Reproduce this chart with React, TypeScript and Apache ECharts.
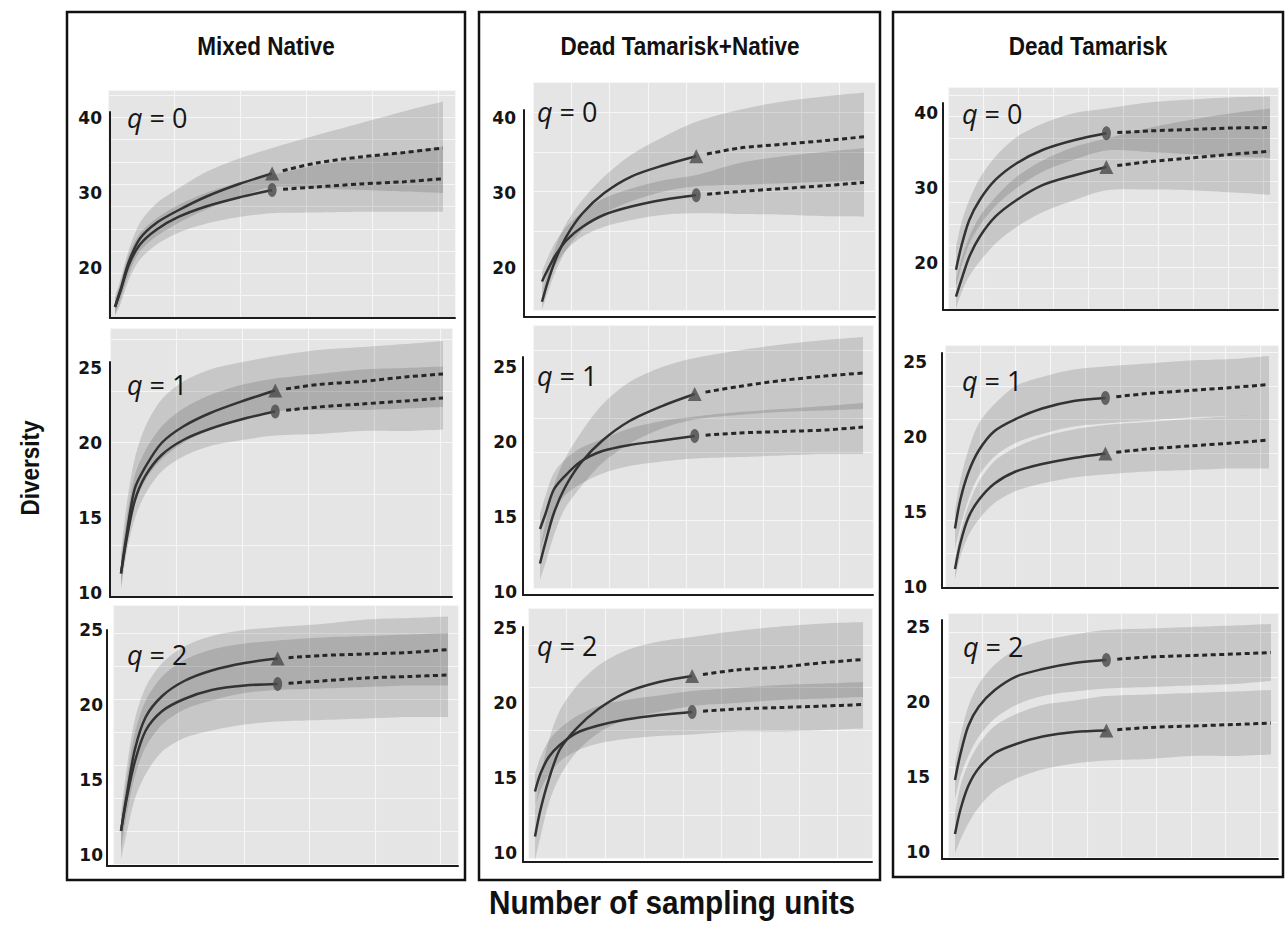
import React, { useEffect, useRef } from "react";
import * as echarts from "echarts";

// Number of sampling units
const interpX = [1, 3, 6, 10, 16, 24, 34, 46, 58];
const extrapX = [58, 74, 90, 106, 120];
const bandX = [1, 3, 6, 10, 16, 24, 34, 46, 58, 74, 90, 106, 120];

const boxTitles = ["Mixed Native", "Dead Tamarisk+Native", "Dead Tamarisk"];
const qOrders = [0, 1, 2];
const ticksQ0 = [20, 30, 40];
const ticksQ12 = [10, 15, 20, 25];

// ---- Mixed Native, q = 0
const mnQ0TriObs = [14.8, 17.1, 20.8, 23.9, 26.0, 27.7, 29.5, 31.2, 32.6];
const mnQ0TriExt = [32.6, 34.0, 34.8, 35.4, 36.0];
const mnQ0TriLo = [13.8, 15.8, 19.2, 22.2, 24.2, 26.0, 27.8, 29.4, 30.8, 30.6, 30.4, 30.2, 30.0];
const mnQ0TriHi = [16.2, 18.5, 22.4, 26.0, 28.6, 30.6, 32.8, 34.6, 36.0, 37.7, 39.3, 40.9, 42.2];
const mnQ0CirObs = [14.8, 16.9, 20.4, 23.1, 25.1, 26.8, 28.2, 29.4, 30.4];
const mnQ0CirExt = [30.4, 30.8, 31.2, 31.5, 31.9];
const mnQ0CirLo = [13.6, 15.2, 18.4, 21.1, 23.1, 24.7, 25.9, 26.8, 27.3, 27.4, 27.5, 27.5, 27.5];
const mnQ0CirHi = [15.8, 18.0, 21.8, 24.6, 26.6, 28.4, 30.0, 31.4, 32.4, 33.7, 34.6, 35.5, 36.2];

// ---- Dead Tamarisk+Native, q = 0
const dtnQ0TriObs = [15.5, 18.0, 21.1, 24.2, 27.3, 30.0, 32.2, 33.7, 34.9];
const dtnQ0TriExt = [34.9, 36.0, 36.5, 37.0, 37.5];
const dtnQ0TriLo = [14.4, 16.6, 19.5, 22.4, 25.1, 27.3, 28.9, 30.2, 30.9, 31.1, 31.3, 31.5, 31.7];
const dtnQ0TriHi = [16.6, 19.3, 22.8, 26.0, 29.1, 32.2, 35.1, 37.5, 39.5, 41.1, 42.2, 42.9, 43.4];
const dtnQ0CirObs = [18.2, 19.7, 21.7, 23.7, 25.5, 27.1, 28.2, 29.1, 29.7];
const dtnQ0CirExt = [29.7, 30.2, 30.6, 31.0, 31.4];
const dtnQ0CirLo = [16.6, 18.4, 20.4, 22.4, 24.2, 25.5, 26.4, 27.1, 27.3, 27.2, 27.1, 26.9, 26.85];
const dtnQ0CirHi = [19.5, 21.3, 23.5, 25.5, 27.5, 29.3, 30.6, 31.7, 32.4, 34.0, 34.9, 35.5, 36.0];

// ---- Dead Tamarisk, q = 0
const dtQ0TriObs = [15.5, 17.7, 20.8, 23.5, 26.2, 28.4, 30.4, 31.7, 32.8];
const dtQ0TriExt = [32.8, 33.5, 34.0, 34.5, 34.9];
const dtQ0TriLo = [13.9, 16.0, 18.2, 20.2, 22.6, 24.8, 26.8, 28.4, 29.7, 29.8, 29.7, 29.4, 29.1];
const dtQ0TriHi = [17.7, 20.4, 23.5, 26.2, 28.8, 31.5, 33.7, 35.5, 36.6, 38.0, 39.1, 40.0, 40.6];
const dtQ0CirObs = [19.1, 22.2, 25.7, 28.4, 31.1, 33.3, 35.1, 36.4, 37.3];
const dtQ0CirExt = [37.3, 37.6, 37.8, 38.0, 38.05];
const dtQ0CirLo = [17.0, 19.5, 22.5, 25.0, 27.6, 30.0, 32.2, 33.8, 35.0, 34.8, 34.5, 34.2, 34.0];
const dtQ0CirHi = [22.2, 25.3, 28.4, 31.3, 34.2, 36.8, 38.6, 40.0, 40.6, 41.4, 41.8, 42.1, 42.2];

// ---- Mixed Native, q = 1
const mnQ1TriObs = [11.3, 13.8, 16.9, 18.4, 20.0, 21.1, 22.0, 22.8, 23.5];
const mnQ1TriExt = [23.5, 23.9, 24.1, 24.4, 24.6];
const mnQ1TriLo = [10.4, 13.1, 15.8, 17.5, 18.9, 20.0, 20.9, 21.5, 22.1, 22.2, 22.2, 22.3, 22.4];
const mnQ1TriHi = [12.6, 15.8, 18.9, 21.1, 22.9, 24.1, 24.9, 25.4, 25.8, 26.2, 26.4, 26.6, 26.8];
const mnQ1CirObs = [11.3, 13.5, 16.1, 17.8, 19.2, 20.2, 20.95, 21.6, 22.1];
const mnQ1CirExt = [22.1, 22.4, 22.6, 22.8, 23.0];
const mnQ1CirLo = [10.2, 12.6, 14.9, 16.6, 18.1, 19.1, 19.8, 20.2, 20.5, 20.6, 20.8, 20.8, 20.9];
const mnQ1CirHi = [12.2, 14.9, 17.8, 19.5, 21.1, 22.3, 23.2, 23.9, 24.3, 24.6, 24.9, 25.0, 25.1];

// ---- Dead Tamarisk+Native, q = 1
const dtnQ1TriObs = [11.9, 13.3, 15.2, 16.9, 18.6, 20.1, 21.4, 22.4, 23.2];
const dtnQ1TriExt = [23.2, 23.7, 24.1, 24.4, 24.6];
const dtnQ1TriLo = [10.8, 11.9, 13.7, 15.5, 17.0, 18.6, 19.9, 20.9, 21.5, 21.8, 22.0, 22.1, 22.2];
const dtnQ1TriHi = [12.8, 14.6, 17.0, 18.8, 20.6, 22.5, 24.0, 25.0, 25.6, 26.1, 26.5, 26.8, 27.0];
const dtnQ1CirObs = [14.2, 15.2, 16.8, 17.7, 18.7, 19.4, 19.8, 20.1, 20.4];
const dtnQ1CirExt = [20.4, 20.6, 20.7, 20.8, 21.0];
const dtnQ1CirLo = [12.8, 13.9, 15.2, 16.4, 17.2, 17.9, 18.4, 18.7, 18.9, 19.0, 19.1, 19.2, 19.2];
const dtnQ1CirHi = [15.2, 16.4, 17.9, 18.8, 19.6, 20.2, 20.9, 21.4, 21.7, 22.0, 22.2, 22.4, 22.6];

// ---- Dead Tamarisk, q = 1
const dtQ1TriObs = [11.2, 12.9, 14.6, 15.8, 16.9, 17.7, 18.2, 18.6, 18.9];
const dtQ1TriExt = [18.9, 19.2, 19.4, 19.6, 19.8];
const dtQ1TriLo = [10.5, 12.0, 13.4, 14.5, 15.6, 16.4, 16.9, 17.3, 17.5, 17.7, 17.8, 17.9, 17.9];
const dtQ1TriHi = [11.8, 13.6, 15.4, 17.0, 18.4, 19.3, 20.0, 20.5, 20.8, 21.0, 21.2, 21.4, 21.5];
const dtQ1CirObs = [13.9, 15.8, 17.6, 19.1, 20.4, 21.2, 21.9, 22.4, 22.6];
const dtQ1CirExt = [22.6, 22.9, 23.1, 23.3, 23.5];
const dtQ1CirLo = [12.5, 14.0, 15.8, 17.4, 18.7, 19.6, 20.2, 20.7, 20.9, 21.1, 21.3, 21.4, 21.5];
const dtQ1CirHi = [15.1, 17.1, 19.1, 20.9, 22.2, 23.4, 24.0, 24.5, 24.7, 24.9, 25.1, 25.2, 25.4];

// ---- Mixed Native, q = 2
const mnQ2TriObs = [11.6, 13.9, 17.0, 19.2, 20.6, 21.6, 22.3, 22.8, 23.1];
const mnQ2TriExt = [23.1, 23.3, 23.4, 23.5, 23.7];
const mnQ2TriLo = [10.3, 12.6, 15.2, 17.2, 18.7, 19.7, 20.3, 20.8, 21.0, 21.1, 21.2, 21.3, 21.3];
const mnQ2TriHi = [12.8, 15.7, 19.0, 21.2, 22.8, 23.9, 24.6, 25.0, 25.2, 25.4, 25.7, 25.8, 25.9];
const mnQ2CirObs = [11.6, 13.7, 16.2, 18.3, 19.6, 20.4, 21.0, 21.3, 21.4];
const mnQ2CirExt = [21.4, 21.6, 21.8, 21.9, 22.0];
const mnQ2CirLo = [9.7, 11.4, 13.7, 15.4, 16.9, 17.8, 18.3, 18.7, 18.9, 19.0, 19.1, 19.2, 19.2];
const mnQ2CirHi = [12.3, 15.0, 18.1, 20.3, 21.9, 23.0, 23.7, 24.1, 24.3, 24.5, 24.6, 24.7, 24.8];

// ---- Dead Tamarisk+Native, q = 2
const dtnQ2TriObs = [11.1, 12.9, 14.9, 16.9, 18.3, 19.6, 20.7, 21.4, 21.8];
const dtnQ2TriExt = [21.8, 22.2, 22.4, 22.7, 22.9];
const dtnQ2TriLo = [9.5, 11.1, 13.3, 15.1, 16.7, 18.0, 18.9, 19.4, 19.8, 20.0, 20.2, 20.3, 20.4];
const dtnQ2TriHi = [12.9, 15.1, 17.5, 19.5, 21.1, 22.5, 23.5, 24.1, 24.4, 24.8, 25.1, 25.3, 25.4];
const dtnQ2CirObs = [14.1, 15.3, 16.4, 17.2, 18.0, 18.5, 18.9, 19.2, 19.4];
const dtnQ2CirExt = [19.4, 19.6, 19.7, 19.8, 19.9];
const dtnQ2CirLo = [13.1, 14.2, 15.2, 16.1, 16.8, 17.3, 17.6, 17.8, 17.9, 18.1, 18.1, 18.2, 18.3];
const dtnQ2CirHi = [15.3, 16.4, 17.5, 18.3, 19.1, 19.8, 20.2, 20.5, 20.8, 21.0, 21.2, 21.3, 21.4];

// ---- Dead Tamarisk, q = 2
const dtQ2TriObs = [11.2, 12.8, 14.4, 15.6, 16.6, 17.2, 17.7, 18.0, 18.1];
const dtQ2TriExt = [18.1, 18.3, 18.4, 18.5, 18.6];
const dtQ2TriLo = [9.9, 10.8, 11.9, 13.0, 14.1, 14.9, 15.5, 15.9, 16.1, 16.2, 16.4, 16.4, 16.5];
const dtQ2TriHi = [12.6, 14.4, 15.9, 17.2, 18.4, 19.2, 19.8, 20.1, 20.4, 20.5, 20.6, 20.7, 20.8];
const dtQ2CirObs = [14.8, 16.5, 18.4, 19.7, 20.8, 21.7, 22.2, 22.6, 22.8];
const dtQ2CirExt = [22.8, 23.0, 23.1, 23.2, 23.3];
const dtQ2CirLo = [13.5, 15.0, 16.4, 17.7, 18.9, 19.8, 20.4, 20.7, 20.9, 21.0, 21.1, 21.2, 21.4];
const dtQ2CirHi = [15.9, 17.7, 19.7, 21.2, 22.5, 23.5, 24.1, 24.5, 24.8, 24.9, 25.0, 25.1, 25.2];

type Curve = { obs: number[]; ext: number[]; lo: number[]; hi: number[]; symbol: string };
const tri = (obs: number[], ext: number[], lo: number[], hi: number[]): Curve => ({ obs, ext, lo, hi, symbol: "triangle" });
const cir = (obs: number[], ext: number[], lo: number[], hi: number[]): Curve => ({ obs, ext, lo, hi, symbol: "circle" });

// row-major: q = 0, 1, 2 ; columns: MN, DTN, DT
const panelCurves: Curve[][] = [
  [tri(mnQ0TriObs, mnQ0TriExt, mnQ0TriLo, mnQ0TriHi), cir(mnQ0CirObs, mnQ0CirExt, mnQ0CirLo, mnQ0CirHi)],
  [tri(dtnQ0TriObs, dtnQ0TriExt, dtnQ0TriLo, dtnQ0TriHi), cir(dtnQ0CirObs, dtnQ0CirExt, dtnQ0CirLo, dtnQ0CirHi)],
  [tri(dtQ0TriObs, dtQ0TriExt, dtQ0TriLo, dtQ0TriHi), cir(dtQ0CirObs, dtQ0CirExt, dtQ0CirLo, dtQ0CirHi)],
  [tri(mnQ1TriObs, mnQ1TriExt, mnQ1TriLo, mnQ1TriHi), cir(mnQ1CirObs, mnQ1CirExt, mnQ1CirLo, mnQ1CirHi)],
  [tri(dtnQ1TriObs, dtnQ1TriExt, dtnQ1TriLo, dtnQ1TriHi), cir(dtnQ1CirObs, dtnQ1CirExt, dtnQ1CirLo, dtnQ1CirHi)],
  [tri(dtQ1TriObs, dtQ1TriExt, dtQ1TriLo, dtQ1TriHi), cir(dtQ1CirObs, dtQ1CirExt, dtQ1CirLo, dtQ1CirHi)],
  [tri(mnQ2TriObs, mnQ2TriExt, mnQ2TriLo, mnQ2TriHi), cir(mnQ2CirObs, mnQ2CirExt, mnQ2CirLo, mnQ2CirHi)],
  [tri(dtnQ2TriObs, dtnQ2TriExt, dtnQ2TriLo, dtnQ2TriHi), cir(dtnQ2CirObs, dtnQ2CirExt, dtnQ2CirLo, dtnQ2CirHi)],
  [tri(dtQ2TriObs, dtQ2TriExt, dtQ2TriLo, dtQ2TriHi), cir(dtQ2CirObs, dtQ2CirExt, dtQ2CirLo, dtQ2CirHi)],
];

// Layout (pixels): frame = axis lines box, bg = grey panel, xp = pixel of first/last sample
const layouts = [
  { frame: [110, 112, 455, 318], bg: [108, 90, 455, 318], y: [13.33, 40.8], xp: [115, 443], lm: 8, gs: [66, 22.3], qAt: [127, 117] },
  { frame: [524, 110, 875, 317], bg: [533, 82, 875, 310], y: [13.47, 41.07], xp: [542, 864], lm: 8, gs: [38.3, 39.5], qAt: [537, 111] },
  { frame: [943, 103, 1278, 310], bg: [948, 87, 1278, 310], y: [13.73, 41.33], xp: [956, 1270], lm: 5, gs: [35, 21.5], qAt: [962, 113] },
  { frame: [110, 362, 452, 597], bg: [110, 328, 452, 597], y: [9.73, 25.4], xp: [121, 443], lm: 8, gs: [66, 51.5], qAt: [127, 384] },
  { frame: [523, 357, 873, 595], bg: [533, 325, 873, 588], y: [9.8, 25.67], xp: [540, 863], lm: 6, gs: [38.3, 34], qAt: [537, 375] },
  { frame: [942, 353, 1278, 588], bg: [945, 345, 1278, 587], y: [9.93, 25.6], xp: [955, 1269], lm: 15, gs: [35, 33.5], qAt: [962, 380] },
  { frame: [107, 630, 458, 866], bg: [113, 605, 458, 864], y: [9.27, 25], xp: [121, 448], lm: 4, gs: [65.5, 33], qAt: [127, 654] },
  { frame: [523, 627, 872, 862], bg: [528, 608, 872, 858], y: [9.4, 25.07], xp: [535, 863], lm: 6, gs: [38.7, 42.6], qAt: [537, 645] },
  { frame: [942, 620, 1278, 859], bg: [948, 613, 1278, 857], y: [9.53, 25.47], xp: [955, 1271], lm: 12, gs: [34.7, 45], qAt: [963, 646] },
];

const boxes = [
  { x: 67, y: 12, w: 398, h: 868, cx: 266 },
  { x: 479, y: 12, w: 401, h: 868, cx: 680 },
  { x: 893, y: 12, w: 390, h: 865, cx: 1088 },
];

// dotted extrapolation: short gap after the reference-sample marker, then square dashes
const dotPattern: number[] = [0.001, 11];
for (let i = 0; i < 60; i++) dotPattern.push(5, 3.5);

function buildOption() {
  const grids: any[] = [];
  const xAxes: any[] = [];
  const yAxes: any[] = [];
  const series: any[] = [];
  const graphics: any[] = [];
  const X0 = bandX[0];
  const X1 = bandX[bandX.length - 1];

  layouts.forEach((L, i) => {
    const row = Math.floor(i / 3);
    const curves = panelCurves[i];
    const [bl, bt, br, bb] = L.bg;
    const bw = br - bl;
    const bh = bb - bt;

    // background grid with gridlines
    const gIdx = grids.length;
    grids.push({ left: bl, top: bt, width: bw, height: bh, show: true, backgroundColor: "#E5E5E5", borderWidth: 0 });
    xAxes.push({
      gridIndex: gIdx, type: "value", min: 0, max: bw / L.gs[0], interval: 1,
      axisLine: { show: false }, axisTick: { show: false }, axisLabel: { show: false },
      splitLine: { show: true, lineStyle: { color: "#F6F6F6", width: 1.2 } }, z: 1,
    });
    yAxes.push({
      gridIndex: gIdx, type: "value", min: 0, max: bh / L.gs[1], interval: 1,
      axisLine: { show: false }, axisTick: { show: false }, axisLabel: { show: false },
      splitLine: { show: true, lineStyle: { color: "#F6F6F6", width: 1.2 } }, z: 1,
    });

    // data grid with axes
    const [fl, ft, fr, fb] = L.frame;
    const aIdx = grids.length;
    grids.push({ left: fl, top: ft, width: fr - fl, height: fb - ft, show: false });
    const k = (L.xp[1] - L.xp[0]) / (X1 - X0);
    const xIdx = xAxes.length;
    xAxes.push({
      gridIndex: aIdx, type: "value",
      min: X0 - (L.xp[0] - fl) / k, max: X1 + (fr - L.xp[1]) / k,
      axisLine: { show: true, onZero: false, lineStyle: { color: "#1c1c1c", width: 2 } },
      axisTick: { show: false }, axisLabel: { show: false }, splitLine: { show: false }, z: 6,
    });
    const yIdx = yAxes.length;
    yAxes.push({
      gridIndex: aIdx, type: "value", min: L.y[0], max: L.y[1],
      axisLine: { show: true, onZero: false, lineStyle: { color: "#1c1c1c", width: 2 } },
      axisTick: { show: false },
      axisLabel: {
        customValues: row === 0 ? ticksQ0 : ticksQ12, margin: L.lm,
        fontFamily: "DejaVu Sans", fontWeight: "bold", fontSize: 17, color: "#151515",
      },
      splitLine: { show: false }, z: 6,
    });

    // bands (smoothed polygon; end corners duplicated to keep them sharp)
    curves.forEach((c) => {
      series.push({
        type: "custom", xAxisIndex: xIdx, yAxisIndex: yIdx, clip: false, silent: true, z: 2,
        data: [[bandX[0], c.lo[0]]],
        renderItem: (_p: any, api: any) => {
          const n = bandX.length;
          const pts: number[][] = [];
          pts.push(api.coord([bandX[0], c.hi[0]]));
          bandX.forEach((x, j) => pts.push(api.coord([x, c.hi[j]])));
          pts.push(api.coord([bandX[n - 1], c.hi[n - 1]]));
          pts.push(api.coord([bandX[n - 1], c.lo[n - 1]]));
          for (let j = n - 1; j >= 0; j--) pts.push(api.coord([bandX[j], c.lo[j]]));
          pts.push(api.coord([bandX[0], c.lo[0]]));
          return {
            type: "polygon",
            shape: { points: pts, smooth: 0.3 },
            style: { fill: "rgba(0,0,0,0.13)" },
          };
        },
      });
    });
    // lines
    curves.forEach((c) => {
      series.push({
        type: "line", xAxisIndex: xIdx, yAxisIndex: yIdx, silent: true, z: 3,
        data: interpX.map((x, j) => [x, c.obs[j]]),
        smooth: 0.3, showSymbol: false, symbol: "none",
        lineStyle: { color: "#333", width: 2.5 },
      });
      series.push({
        type: "line", xAxisIndex: xIdx, yAxisIndex: yIdx, silent: true, z: 3,
        data: extrapX.map((x, j) => [x, c.ext[j]]),
        smooth: 0.3, showSymbol: false, symbol: "none",
        lineStyle: { color: "#262626", width: 3, type: dotPattern },
      });
      const last = interpX.length - 1;
      series.push({
        type: "scatter", xAxisIndex: xIdx, yAxisIndex: yIdx, silent: true, z: 4,
        data: [[interpX[last], c.obs[last]]],
        symbol: c.symbol, symbolSize: c.symbol === "triangle" ? [14, 14] : [9, 14],
        itemStyle: { color: "#4a4a4a" },
      });
    });

    // q label
    graphics.push({
      type: "text", x: L.qAt[0], y: L.qAt[1], z: 20, silent: true,
      style: {
        text: "{i|q} = " + qOrders[row],
        font: '27px "Open Sans"', fill: "#161616",
        align: "left", verticalAlign: "middle", textAlign: "left", textVerticalAlign: "middle",
        rich: { i: { fontStyle: "italic", fontSize: 27, fontFamily: "Open Sans", fill: "#161616" } },
      },
    });
  });

  const bigFont = (size: number) => `bold ${size}px "Liberation Sans", Arial`;

  boxes.forEach((b, i) => {
    graphics.push({
      type: "rect", z: 30, silent: true,
      shape: { x: b.x, y: b.y, width: b.w, height: b.h },
      style: { fill: "none", stroke: "#111", lineWidth: 2.5 },
    });
    graphics.push({
      type: "text", x: b.cx, y: 46, z: 30, silent: true, scaleX: 0.9, scaleY: 1,
      style: {
        text: boxTitles[i], font: bigFont(25), fill: "#111",
        align: "center", verticalAlign: "middle", textAlign: "center", textVerticalAlign: "middle",
      },
    });
  });

  graphics.push({
    type: "text", x: 30, y: 468, rotation: Math.PI / 2, z: 30, silent: true, scaleX: 0.9,
    style: {
      text: "Diversity", font: bigFont(25), fill: "#111",
      align: "center", verticalAlign: "middle", textAlign: "center", textVerticalAlign: "middle",
    },
  });
  graphics.push({
    type: "text", x: 672, y: 903, z: 30, silent: true, scaleX: 0.9,
    style: {
      text: "Number of sampling units", font: bigFont(33), fill: "#111",
      align: "center", verticalAlign: "middle", textAlign: "center", textVerticalAlign: "middle",
    },
  });

  return {
    animation: false,
    backgroundColor: "#ffffff",
    grid: grids,
    xAxis: xAxes,
    yAxis: yAxes,
    series,
    graphic: { elements: graphics },
  };
}

export default function App() {
  const ref = useRef<HTMLDivElement>(null);
  useEffect(() => {
    document.body.style.margin = "0";
    if (!ref.current) return;
    const chart = echarts.init(ref.current, undefined, { renderer: "svg" });
    chart.setOption(buildOption() as any);
    return () => chart.dispose();
  }, []);
  return <div ref={ref} style={{ position: "absolute", left: 0, top: 0, width: 1285, height: 926 }} />;
}
